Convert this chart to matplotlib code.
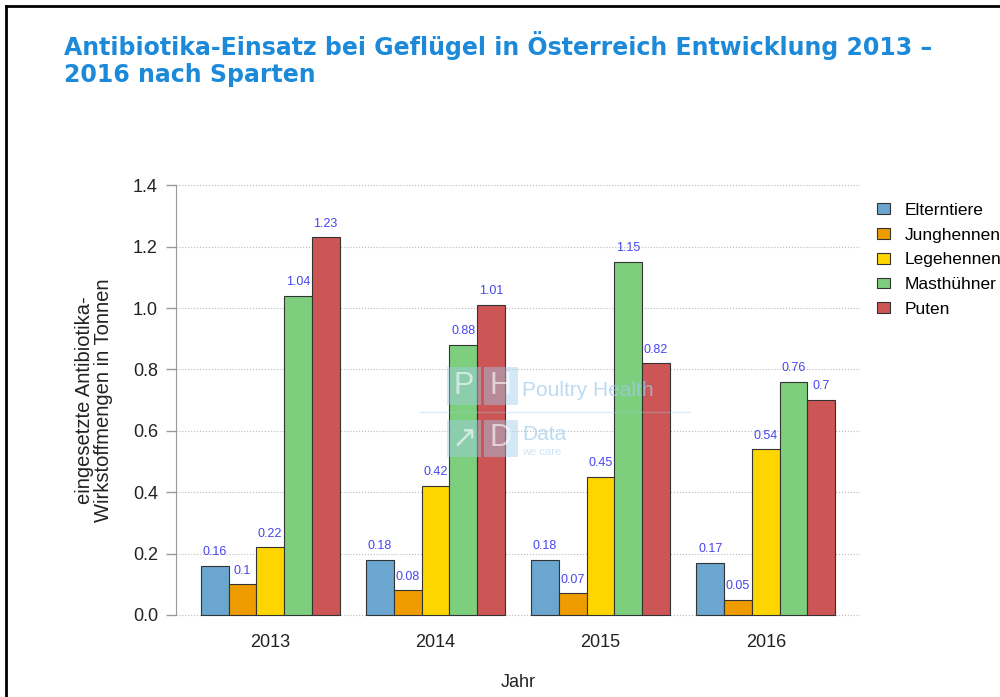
import numpy as np
import matplotlib.pyplot as plt
from matplotlib.lines import Line2D
from matplotlib.patches import Rectangle

# Data
jahre = ['2013', '2014', '2015', '2016']
sparten = ['Elterntiere', 'Junghennen', 'Legehennen', 'Masthühner', 'Puten']
elterntiere = [0.16, 0.18, 0.18, 0.17]
junghennen = [0.10, 0.08, 0.07, 0.05]
legehennen = [0.22, 0.42, 0.45, 0.54]
masthuehner = [1.04, 0.88, 1.15, 0.76]
puten = [1.23, 1.01, 0.82, 0.70]
value_labels = [
    ['0.16', '0.18', '0.18', '0.17'],
    ['0.1', '0.08', '0.07', '0.05'],
    ['0.22', '0.42', '0.45', '0.54'],
    ['1.04', '0.88', '1.15', '0.76'],
    ['1.23', '1.01', '0.82', '0.7'],
]
colors = ['#6aa6cf', '#ee9c00', '#ffd500', '#7dcf7d', '#cc5555']

plt.rcParams['font.family'] = ['Liberation Sans', 'DejaVu Sans']

fig = plt.figure(figsize=(10, 6.97), dpi=100)
ax = fig.add_axes([0.176, 0.109, 0.684, 0.634])

series = [elterntiere, junghennen, legehennen, masthuehner, puten]
x = np.arange(len(jahre))
width = 0.168
for i, (vals, col, name) in enumerate(zip(series, colors, sparten)):
    pos = x + (i - 2) * width
    bars = ax.bar(pos, vals, width, color=col, edgecolor='#333333',
                  linewidth=0.8, label=name, zorder=3)
    for bar, txt in zip(bars, value_labels[i]):
        ax.text(bar.get_x() + bar.get_width() / 2, bar.get_height() + 0.025, txt,
                ha='center', va='bottom', fontsize=9, color='#4646f0', zorder=4)

ax.set_xlim(-0.57, 3.57)
ax.set_ylim(-0.02, 1.42)
ax.set_yticks(np.arange(0, 1.41, 0.2))
ax.set_yticklabels([f'{v:.1f}' for v in np.arange(0, 1.41, 0.2)])
ax.set_xticks(x)
ax.set_xticklabels(jahre)
ax.tick_params(axis='x', length=0, pad=9, labelsize=13, labelcolor='#222222')
ax.tick_params(axis='y', length=7, width=1, pad=6, color='#999999', labelsize=13,
               labelcolor='#222222')
ax.grid(axis='y', linestyle=':', color='#bbbbbb', linewidth=0.8, zorder=0)

for s in ['top', 'right', 'bottom']:
    ax.spines[s].set_visible(False)
ax.spines['left'].set_bounds(0, 1.4)
ax.spines['left'].set_color('#999999')

ax.set_ylabel('eingesetzte Antibiotika-\nWirkstoffmengen in Tonnen', fontsize=14.5,
              color='#222222', labelpad=14, linespacing=1.0)
ax.set_xlabel('Jahr', fontsize=13, color='#222222', labelpad=17)

ax.legend(loc='upper left', bbox_to_anchor=(1.014, 0.962), frameon=False,
          fontsize=12.5, handlelength=0.78, handleheight=0.57, labelspacing=0.56,
          handletextpad=0.85, borderaxespad=0)

fig.text(0.064, 0.955, 'Antibiotika-Einsatz bei Geflügel in Österreich Entwicklung 2013 –\n2016 nach Sparten',
         fontsize=17, fontweight='bold', color='#1c8ad9', family='DejaVu Sans',
         va='top', ha='left', linespacing=1.15)

# watermark
wm = '#9fcbea'
box_w, box_h = 0.034, 0.054
for bx, by, ch in [(0.447, 0.419, 'P'), (0.484, 0.419, 'H'),
                   (0.447, 0.344, '↗'), (0.484, 0.344, 'D')]:
    fig.add_artist(Rectangle((bx, by), box_w, box_h, transform=fig.transFigure,
                             facecolor=wm, edgecolor='none', alpha=0.45, zorder=5))
    fig.text(bx + box_w / 2, by + box_h / 2, ch, ha='center', va='center',
             fontsize=22, color='white', alpha=0.6, zorder=6)
fig.text(0.522, 0.44, 'Poultry Health', fontsize=15, color=wm, alpha=0.7,
         va='center', zorder=6)
fig.text(0.522, 0.376, 'Data', fontsize=15, color=wm, alpha=0.7, va='center', zorder=6)
fig.text(0.522, 0.352, 'we care', fontsize=8, color=wm, alpha=0.5, va='center', zorder=6)
fig.add_artist(Line2D([0.42, 0.69], [0.409, 0.409], transform=fig.transFigure,
                      color=wm, alpha=0.35, linewidth=1, zorder=5))

# slide border
fig.add_artist(Line2D([0.006, 0.006], [0.0, 0.992], transform=fig.transFigure,
                      color='black', linewidth=2))
fig.add_artist(Line2D([0.006, 1.0], [0.992, 0.992], transform=fig.transFigure,
                      color='black', linewidth=2))

plt.savefig('out.png', dpi=100)
